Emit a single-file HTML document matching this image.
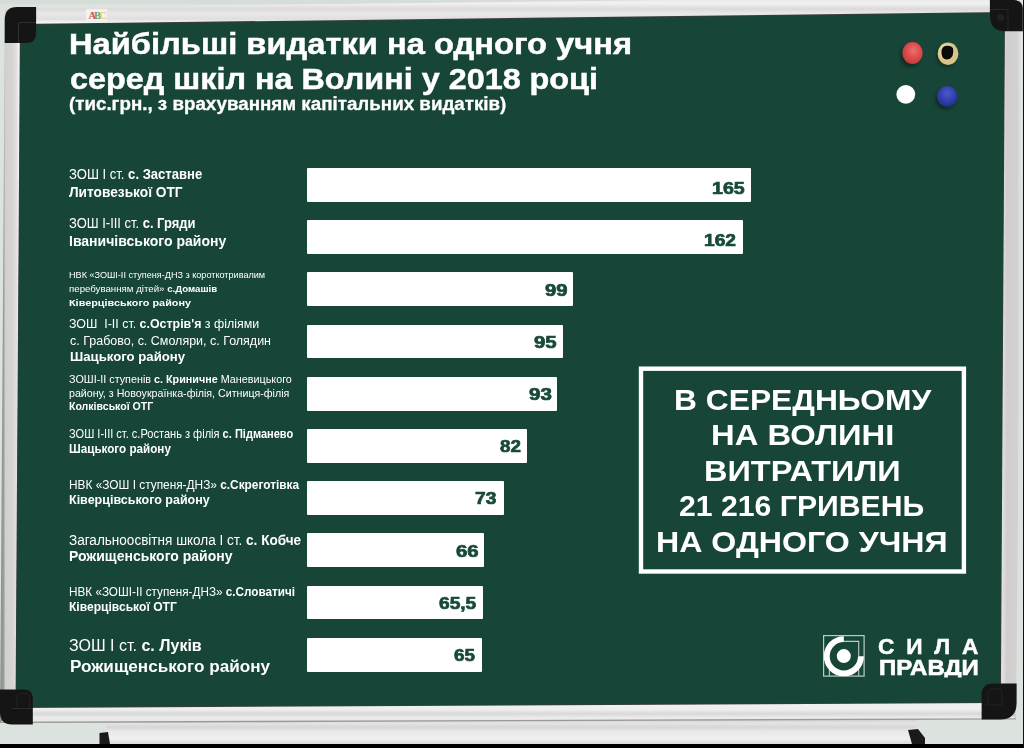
<!DOCTYPE html>
<html><head><meta charset="utf-8">
<style>
html,body{margin:0;padding:0;}
body{width:1024px;height:748px;overflow:hidden;position:relative;background:#dbe1dd;font-family:"Liberation Sans",sans-serif;}
svg.bg{position:absolute;left:0;top:0;}
.t{position:absolute;white-space:nowrap;line-height:1;color:#fff;transform-origin:0 0;}
.tb{font-weight:bold;}
.tr{font-weight:normal;}
.tr b{font-weight:bold;}
.bm{display:inline-block;width:0;height:0;vertical-align:baseline;}
.bar{position:absolute;background:#fff;border-radius:1px;}
#n0,#n1,#n2,#n3,#n4,#n5,#n6,#n7,#n8,#n9{color:#184a3a;-webkit-text-stroke:0.7px #184a3a;}
#t1,#t2{-webkit-text-stroke:0.5px #fff;}
#t3{-webkit-text-stroke:0.3px #fff;}
#g2{-webkit-text-stroke:0.6px #fff;clip-path:inset(-5px -5px 2.2px -5px);}
#g1{-webkit-text-stroke:0.5px #fff;}
</style></head><body>
<svg class="bg" width="1024" height="748" viewBox="0 0 1024 748">
<defs>
<linearGradient id="gTop" x1="0" y1="0" x2="0" y2="1">
<stop offset="0" stop-color="#e6e6e6"/><stop offset="0.25" stop-color="#f2f0f0"/><stop offset="0.45" stop-color="#dcdad9"/><stop offset="0.6" stop-color="#e9e8e8"/><stop offset="0.8" stop-color="#e0dfdf"/><stop offset="0.92" stop-color="#f6f6f6"/><stop offset="1" stop-color="#cfcfcf"/>
</linearGradient>
<linearGradient id="gBot" x1="0" y1="0" x2="0" y2="1">
<stop offset="0" stop-color="#f2f2f2"/><stop offset="0.35" stop-color="#eeeeee"/><stop offset="0.55" stop-color="#d9d8d8"/><stop offset="0.75" stop-color="#ececec"/><stop offset="0.92" stop-color="#e6e6e6"/><stop offset="1" stop-color="#a9a9a9"/>
</linearGradient>
<linearGradient id="gLeft" x1="0" y1="0" x2="1" y2="0">
<stop offset="0" stop-color="#8a8e8b"/><stop offset="0.18" stop-color="#9a9d9b"/><stop offset="0.26" stop-color="#d2cfcf"/><stop offset="0.6" stop-color="#d6d3d3"/><stop offset="0.82" stop-color="#e2e2e2"/><stop offset="0.92" stop-color="#f4f4f4"/><stop offset="1" stop-color="#b8b8b8"/>
</linearGradient>
<linearGradient id="gRight" x1="0" y1="0" x2="1" y2="0">
<stop offset="0" stop-color="#a9a9a9"/><stop offset="0.08" stop-color="#e4e2e2"/><stop offset="0.3" stop-color="#d0cdcd"/><stop offset="0.75" stop-color="#d2d0d0"/><stop offset="0.85" stop-color="#dedede"/><stop offset="1" stop-color="#e4e6e5"/>
</linearGradient>
<linearGradient id="gTray" x1="0" y1="0" x2="0" y2="1">
<stop offset="0" stop-color="#9c9c9c"/><stop offset="0.06" stop-color="#d2d2d2"/><stop offset="0.2" stop-color="#e4e4e4"/><stop offset="0.35" stop-color="#d6d6d6"/><stop offset="0.5" stop-color="#e8e8e8"/><stop offset="0.8" stop-color="#f0f0f0"/><stop offset="1" stop-color="#dadada"/>
</linearGradient>
<radialGradient id="gRed" cx="0.55" cy="0.4" r="0.6">
<stop offset="0" stop-color="#e8736f"/><stop offset="0.6" stop-color="#dc4a4a"/><stop offset="1" stop-color="#c43a3e"/>
</radialGradient>
<radialGradient id="gBlue" cx="0.5" cy="0.35" r="0.65">
<stop offset="0" stop-color="#4a5cc8"/><stop offset="0.6" stop-color="#2f3eab"/><stop offset="1" stop-color="#22308a"/>
</radialGradient>
<filter id="blur1" x="-50%" y="-50%" width="200%" height="200%"><feGaussianBlur stdDeviation="1.6"/></filter>
</defs>
<rect x="0" y="0" width="1024" height="748" fill="#dce2de"/>
<rect x="0" y="0" width="1024" height="4" fill="#d6dcd8"/>
<!-- chalk tray -->
<polygon points="106.5,722 916,718 916,744 106.5,744" fill="url(#gTray)"/>
<polygon points="99.5,733 108,732 110,744 99.5,744" fill="#1a1a1a"/>
<polygon points="908,730 918,729 925,738 925,744 912,744" fill="#1a1a1a"/>
<!-- frame outer -->
<polygon points="5,8 1023,-4 1016,719.5 0,723" fill="#e4e4e4"/>
<polygon points="5,8 1023,-4 1017,13 20.5,25" fill="url(#gTop)"/>
<polygon points="16,707 1000,702.3 1016,719.5 0,723" fill="url(#gBot)"/>
<polygon points="5,8 20.5,25 16,707 0,723" fill="url(#gLeft)"/>
<polygon points="1004.5,13 1023,-4 1016,719.5 1000,702.3" fill="url(#gRight)"/>
<line x1="0" y1="722.4" x2="1016" y2="718.9" stroke="#9a9a9a" stroke-width="1.3"/>
<!-- dark edge around green -->
<polygon points="20,24 1005,12 1000.8,703 15.5,708" fill="#3a3d3b"/>
<!-- green -->
<polygon points="20.5,25 1004.5,13 1000,702.3 16,707" fill="#174638"/>
<!-- corners -->
<path d="M4.7,20 Q4.7,7 17,7 L36.1,7 L36.1,33 Q36.1,43.1 26,43.1 L4.7,43.1 Z" fill="#151515"/>
<path d="M18.5,43 L18.5,24.5 Q18.5,22.5 20.5,22.5 L36,22.5" fill="none" stroke="#2f2f2f" stroke-width="1.2"/>
<path d="M989.9,0 L1014,0 Q1022.8,0 1022.8,9 L1022.8,31.2 L1005,31.2 Q989.9,31.2 989.9,15 Z" fill="#151515"/>
<path d="M990,9.5 L1008,9.5 L1008,31" fill="none" stroke="#262626" stroke-width="1"/>
<circle cx="1000.5" cy="17.5" r="3.5" fill="#222"/>
<path d="M0,689.4 L24,689.4 Q32.8,689.4 32.8,698 L32.8,724.5 L12,724.5 Q0,724.5 0,712 Z" fill="#151515"/>
<path d="M17,708.5 L17,697 Q17,693.4 21,693.4 L26,693.4 Q29.4,693.4 29.4,697 L29.4,708.5" fill="none" stroke="#222" stroke-width="1"/>
<path d="M12,708.5 L32,708.5" stroke="#2c2c2c" stroke-width="1"/>
<path d="M993,683.5 L1016.6,683.5 L1016.6,703 Q1016.6,719.5 1000,719.5 L981.6,719.5 L981.6,695 Q981.6,683.5 993,683.5 Z" fill="#151515"/>
<path d="M985,705 L1002,705 M1002,705 L1002,692 Q1002,689 999,689 L993,689 Q988,689 988,694 L988,705" fill="none" stroke="#232323" stroke-width="1"/>
<!-- ABC sticker -->
<rect x="86" y="9" width="21" height="12" fill="#f4f0f0"/>
<text x="88.5" y="19.3" font-family="Liberation Serif" font-weight="bold" font-size="10.5" fill="#d94a4f">A</text>
<text x="94" y="19.3" font-family="Liberation Serif" font-weight="bold" font-size="10.5" fill="#5aa36a">B</text>
<text x="99.3" y="19.3" font-family="Liberation Serif" font-weight="bold" font-size="10.5" fill="#e2cf5a">C</text>
<!-- magnets -->
<ellipse cx="910.5" cy="56" rx="10.5" ry="11" fill="#0b2219" opacity="0.7" filter="url(#blur1)"/>
<ellipse cx="912.5" cy="53" rx="10.2" ry="11" fill="url(#gRed)"/>
<ellipse cx="946.5" cy="56" rx="10.5" ry="11" fill="#0b2219" opacity="0.6" filter="url(#blur1)"/>
<ellipse cx="948" cy="53.7" rx="10.4" ry="11.2" fill="#d7c386"/>
<ellipse cx="946.5" cy="52" rx="8" ry="8.5" fill="#eadcaa" opacity="0.6"/>
<path d="M941.5,53 Q941,46 947,45.8 Q951,45.5 953,48 Q954,52 952.5,56 Q950,60 946,59.5 Q941.5,58.5 941.5,53 Z" fill="#0a0a08"/>
<circle cx="905.8" cy="94.4" r="9.4" fill="#ffffff"/>
<ellipse cx="945.5" cy="99" rx="10.5" ry="10.6" fill="#0b2219" opacity="0.7" filter="url(#blur1)"/>
<ellipse cx="947.2" cy="96.5" rx="10.2" ry="10.4" fill="url(#gBlue)"/>
<rect x="0" y="744" width="1024" height="4" fill="#000"/>
<rect x="1023" y="0" width="1" height="748" fill="#111"/>
<!-- summary box -->
<rect x="641" y="368.7" width="322.9" height="202.8" fill="none" stroke="#ffffff" stroke-width="4.4"/>
<!-- logo -->
<g>
<rect x="823.6" y="635.6" width="40.5" height="40.5" fill="none" stroke="#b9cbc3" stroke-width="1.2"/>
<path d="M843.8,641.4 L858.7,641.4 L858.7,656.3" fill="none" stroke="#b9cbc3" stroke-width="1.1"/>
<path d="M829.4,662 L829.4,676.1 M858.7,662 L858.7,676.1" fill="none" stroke="#b9cbc3" stroke-width="1.1"/>
<path d="M843.85,639.15 A17.1,17.1 0 1 0 860.95,656.25" fill="none" stroke="#ffffff" stroke-width="5.9"/>
<circle cx="843.8" cy="656.1" r="7" fill="#ffffff"/>
</g>
</svg>

<div class="bar" style="left:306.70px;top:168.00px;width:444.40px;height:33.80px"></div>
<div class="bar" style="left:306.70px;top:220.20px;width:436.40px;height:33.80px"></div>
<div class="bar" style="left:306.70px;top:272.40px;width:266.80px;height:33.80px"></div>
<div class="bar" style="left:306.70px;top:324.60px;width:256.00px;height:33.80px"></div>
<div class="bar" style="left:306.70px;top:376.80px;width:250.40px;height:33.80px"></div>
<div class="bar" style="left:306.70px;top:429.00px;width:220.30px;height:33.80px"></div>
<div class="bar" style="left:306.70px;top:481.20px;width:197.10px;height:33.80px"></div>
<div class="bar" style="left:306.70px;top:533.40px;width:177.80px;height:33.80px"></div>
<div class="bar" style="left:306.70px;top:585.60px;width:176.40px;height:33.80px"></div>
<div class="bar" style="left:306.70px;top:637.80px;width:175.40px;height:33.80px"></div>
<div id="t1" class="t tb" style="left:69.20px;top:29.10px;font-size:30.00px;transform:scaleX(1.0891)">Найбільші видатки на одного учня<i class="bm"></i></div>
<div id="t2" class="t tb" style="left:70.20px;top:64.10px;font-size:30.00px;transform:scaleX(1.0782)">серед шкіл на Волині у 2018 році<i class="bm"></i></div>
<div id="t3" class="t tb" style="left:69.20px;top:96.00px;font-size:17.50px;transform:scaleX(1.0722)">(тис.грн., з врахуванням капітальних видатків)<i class="bm"></i></div>
<div id="l1a" class="t tr" style="left:69.40px;top:167.22px;font-size:14.20px;transform:scaleX(0.9209)">ЗОШ І ст. <b>с. Заставне</b><i class="bm"></i></div>
<div id="l1b" class="t tr" style="left:69.20px;top:185.22px;font-size:14.20px;transform:scaleX(0.9667)"><b>Литовезької ОТГ</b><i class="bm"></i></div>
<div id="l2a" class="t tr" style="left:69.20px;top:216.31px;font-size:14.40px;transform:scaleX(0.9002)">ЗОШ І-ІІІ ст. <b>с. Гряди</b><i class="bm"></i></div>
<div id="l2b" class="t tr" style="left:69.20px;top:234.20px;font-size:14.40px;transform:scaleX(0.9739)"><b>Іваничівського району</b><i class="bm"></i></div>
<div id="l3a" class="t tr" style="left:68.60px;top:270.01px;font-size:9.60px;transform:scaleX(0.9478)">НВК «ЗОШІ-ІІ ступеня-ДНЗ з короткотривалим<i class="bm"></i></div>
<div id="l3b" class="t tr" style="left:68.60px;top:283.70px;font-size:9.60px;transform:scaleX(1.0090)">перебуванням дітей» <b>с.Домашів</b><i class="bm"></i></div>
<div id="l3c" class="t tr" style="left:68.60px;top:297.60px;font-size:9.60px;transform:scaleX(1.1301)"><b>Ківерцівського району</b><i class="bm"></i></div>
<div id="l4a" class="t tr" style="left:68.60px;top:316.60px;font-size:13.20px;transform:scaleX(0.9406)">ЗОШ&nbsp; І-ІІ ст. <b>с.Острів'я</b> з філіями<i class="bm"></i></div>
<div id="l4b" class="t tr" style="left:69.60px;top:333.81px;font-size:13.20px;transform:scaleX(0.9472)">с. Грабово, с. Смоляри, с. Голядин<i class="bm"></i></div>
<div id="l4c" class="t tr" style="left:69.60px;top:349.91px;font-size:13.20px;transform:scaleX(0.9996)"><b>Шацького району</b><i class="bm"></i></div>
<div id="l5a" class="t tr" style="left:68.60px;top:373.50px;font-size:10.70px;transform:scaleX(1.0091)">ЗОШІ-ІІ ступенів <b>с. Криничне</b> Маневицького<i class="bm"></i></div>
<div id="l5b" class="t tr" style="left:68.60px;top:388.00px;font-size:10.70px;transform:scaleX(0.9967)">району, з Новоукраїнка-філія, Ситниця-філія<i class="bm"></i></div>
<div id="l5c" class="t tr" style="left:68.60px;top:400.90px;font-size:10.70px;transform:scaleX(0.9874)"><b>Колківської ОТГ</b><i class="bm"></i></div>
<div id="l6a" class="t tr" style="left:68.60px;top:428.71px;font-size:11.90px;transform:scaleX(0.9288)">ЗОШ І-ІІІ ст. с.Ростань з філія <b>с. Підманево</b><i class="bm"></i></div>
<div id="l6b" class="t tr" style="left:68.60px;top:443.50px;font-size:11.90px;transform:scaleX(0.9809)"><b>Шацького району</b><i class="bm"></i></div>
<div id="l7a" class="t tr" style="left:68.60px;top:479.50px;font-size:11.90px;transform:scaleX(0.9967)">НВК «ЗОШ І ступеня-ДНЗ» <b>с.Скреготівка</b><i class="bm"></i></div>
<div id="l7b" class="t tr" style="left:68.60px;top:494.90px;font-size:11.90px;transform:scaleX(1.0520)"><b>Ківерцівського району</b><i class="bm"></i></div>
<div id="l8a" class="t tr" style="left:68.60px;top:532.51px;font-size:14.00px;transform:scaleX(0.9675)">Загальноосвітня школа І ст. <b>с. Кобче</b><i class="bm"></i></div>
<div id="l8b" class="t tr" style="left:68.60px;top:549.41px;font-size:14.00px;transform:scaleX(0.9995)"><b>Рожищенського району</b><i class="bm"></i></div>
<div id="l9a" class="t tr" style="left:68.60px;top:586.61px;font-size:11.90px;transform:scaleX(0.9862)">НВК «ЗОШІ-ІІ ступеня-ДНЗ» <b>с.Словатичі</b><i class="bm"></i></div>
<div id="l9b" class="t tr" style="left:68.60px;top:602.11px;font-size:11.90px;transform:scaleX(1.0156)"><b>Ківерцівської ОТГ</b><i class="bm"></i></div>
<div id="l10a" class="t tr" style="left:68.80px;top:637.61px;font-size:16.00px;transform:scaleX(1.0009)">ЗОШ І ст. <b>с. Луків</b><i class="bm"></i></div>
<div id="l10b" class="t tr" style="left:69.60px;top:658.90px;font-size:16.00px;transform:scaleX(1.0703)"><b>Рожищенського району</b><i class="bm"></i></div>
<div id="b1" class="t tb" style="left:674.20px;top:384.72px;font-size:30.00px;transform:scaleX(1.0590)">В СЕРЕДНЬОМУ<i class="bm"></i></div>
<div id="b2" class="t tb" style="left:711.20px;top:420.00px;font-size:30.00px;transform:scaleX(1.0922)">НА ВОЛИНІ<i class="bm"></i></div>
<div id="b3" class="t tb" style="left:704.20px;top:455.50px;font-size:30.00px;transform:scaleX(1.0826)">ВИТРАТИЛИ<i class="bm"></i></div>
<div id="b4" class="t tb" style="left:679.00px;top:491.00px;font-size:30.00px;transform:scaleX(1.0071)">21 216 ГРИВЕНЬ<i class="bm"></i></div>
<div id="b5" class="t tb" style="left:656.40px;top:526.91px;font-size:30.00px;transform:scaleX(1.0714)">НА ОДНОГО УЧНЯ<i class="bm"></i></div>
<div id="g1" class="t tb" style="left:878.00px;top:636.00px;font-size:22.00px;transform:scaleX(1.0312)"><span style="letter-spacing:0.52em">СИЛ</span>А<i class="bm"></i></div>
<div id="g2" class="t tb" style="left:879.00px;top:658.10px;font-size:21.50px;transform:scaleX(1.1149)">ПРАВДИ<i class="bm"></i></div>
<div id="n0" class="t tb" style="left:712.00px;top:180.11px;font-size:16.50px;transform:scaleX(1.1864)">165<i class="bm"></i></div>
<div id="n1" class="t tb" style="left:704.00px;top:232.31px;font-size:16.50px;transform:scaleX(1.1620)">162<i class="bm"></i></div>
<div id="n2" class="t tb" style="left:545.00px;top:281.50px;font-size:16.50px;transform:scaleX(1.2319)">99<i class="bm"></i></div>
<div id="n3" class="t tb" style="left:534.00px;top:333.71px;font-size:16.50px;transform:scaleX(1.2353)">95<i class="bm"></i></div>
<div id="n4" class="t tb" style="left:529.00px;top:385.90px;font-size:16.50px;transform:scaleX(1.2467)">93<i class="bm"></i></div>
<div id="n5" class="t tb" style="left:500.00px;top:438.11px;font-size:16.50px;transform:scaleX(1.1381)">82<i class="bm"></i></div>
<div id="n6" class="t tb" style="left:475.00px;top:490.31px;font-size:16.50px;transform:scaleX(1.1649)">73<i class="bm"></i></div>
<div id="n7" class="t tb" style="left:456.00px;top:542.50px;font-size:16.50px;transform:scaleX(1.2353)">66<i class="bm"></i></div>
<div id="n8" class="t tb" style="left:439.00px;top:594.71px;font-size:16.50px;transform:scaleX(1.1598)">65,5<i class="bm"></i></div>
<div id="n9" class="t tb" style="left:454.00px;top:646.90px;font-size:16.50px;transform:scaleX(1.1392)">65<i class="bm"></i></div>
</body></html>
